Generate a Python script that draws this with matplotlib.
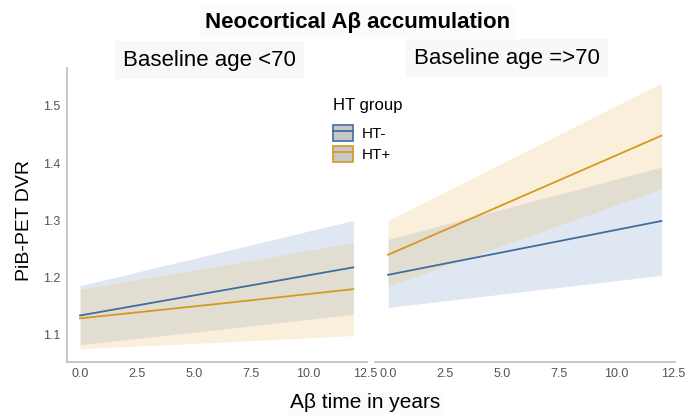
#!/usr/bin/env python3

"""
Neocortical Abeta accumulation: PiB-PET DVR over time by HT group,
split by baseline age.
"""

import matplotlib

matplotlib.use("Agg")
import matplotlib.pyplot as plt
from matplotlib.patches import Patch
from matplotlib.lines import Line2D

plt.rcParams["font.family"] = ["Liberation Sans", "DejaVu Sans"]

# data (years since baseline)
years = [0, 6, 12]

# baseline age < 70
young_neg_fit = [1.134, 1.176, 1.218]
young_neg_lo = [1.083, 1.109, 1.136]
young_neg_hi = [1.186, 1.243, 1.300]
young_pos_fit = [1.129, 1.154, 1.180]
young_pos_lo = [1.076, 1.087, 1.099]
young_pos_hi = [1.180, 1.220, 1.261]

# baseline age >= 70
old_neg_fit = [1.205, 1.252, 1.299]
old_neg_lo = [1.148, 1.176, 1.204]
old_neg_hi = [1.267, 1.330, 1.393]
old_pos_fit = [1.240, 1.344, 1.448]
old_pos_lo = [1.185, 1.270, 1.355]
old_pos_hi = [1.300, 1.420, 1.540]

panel_titles = ["Baseline age <70", "Baseline age =>70"]
group_labels = ["HT-", "HT+"]
xticks = [0.0, 2.5, 5.0, 7.5, 10.0, 12.5]
yticks = [1.1, 1.2, 1.3, 1.4, 1.5]

blue = "#3f6e9e"
orange = "#d49a1f"
blue_fill = "#6f97c8"
orange_fill = "#ecc070"
spine_col = "#bdbdbd"
tick_col = "#555555"

fig = plt.figure(figsize=(6.87, 4.15), dpi=100)
ax1 = fig.add_axes([0.0975, 0.128, 0.4367, 0.708])
ax2 = fig.add_axes([0.546, 0.128, 0.4367, 0.708])

panels = [
    (ax1, young_neg_fit, young_neg_lo, young_neg_hi,
     young_pos_fit, young_pos_lo, young_pos_hi),
    (ax2, old_neg_fit, old_neg_lo, old_neg_hi,
     old_pos_fit, old_pos_lo, old_pos_hi),
]

for ax, nf, nl, nh, pf, pl, ph in panels:
    ax.fill_between(years, nl, nh, color=blue_fill, alpha=0.22, lw=0)
    ax.fill_between(years, pl, ph, color=orange_fill, alpha=0.25, lw=0)
    ax.plot(years, nf, color=blue, lw=1.3)
    ax.plot(years, pf, color=orange, lw=1.3)

    ax.set_xlim(-0.57, 12.6)
    ax.set_ylim(1.053, 1.566)
    ax.set_xticks(xticks)
    ax.set_xticklabels([f"{t:.1f}" for t in xticks])
    ax.set_yticks(yticks)
    ax.tick_params(length=0, labelsize=9, colors=tick_col, pad=4.5)
    for s in ["top", "right"]:
        ax.spines[s].set_visible(False)
    ax.spines["bottom"].set_color(spine_col)
    ax.spines["left"].set_color(spine_col)
    ax.spines["bottom"].set_linewidth(1.2)
    ax.spines["left"].set_linewidth(1.2)

ax2.spines["left"].set_visible(False)
ax2.set_yticks([])

ax1.set_ylabel("PiB-PET DVR", fontsize=14)
ax1.yaxis.set_label_coords(-0.113, 0.48)

fig.text(0.52, 0.946, "Neocortical A\u03b2 accumulation", ha="center",
         va="center", fontsize=16, fontweight="bold",
         bbox=dict(facecolor="#fbfbfb", edgecolor="none", pad=4))
fig.text(0.305, 0.855, panel_titles[0], ha="center", va="center",
         fontsize=16,
         bbox=dict(facecolor="#f8f8f8", edgecolor="none", pad=6))
fig.text(0.738, 0.86, panel_titles[1], ha="center", va="center",
         fontsize=16,
         bbox=dict(facecolor="#f8f8f8", edgecolor="none", pad=6))
fig.text(0.531, 0.029, "A\u03b2 time in years", ha="center", va="center",
         fontsize=15,
         bbox=dict(facecolor="#fbfbfb", edgecolor="none", pad=2))

handles = [
    (Patch(facecolor="#c8c8c8", edgecolor=blue, lw=1.2),
     Line2D([], [], color=blue, lw=1.3)),
    (Patch(facecolor="#c8c8c8", edgecolor=orange, lw=1.2),
     Line2D([], [], color=orange, lw=1.3)),
]
leg = fig.legend(handles, group_labels, title="HT group",
                 loc="upper left", bbox_to_anchor=(0.465, 0.796),
                 frameon=False, fontsize=11, title_fontsize=12,
                 handlelength=1.3, handleheight=1.3, labelspacing=0.3,
                 handletextpad=0.55)
leg._legend_box.align = "left"
leg._legend_box.sep = 8

fig.savefig("out.png", dpi=100)
